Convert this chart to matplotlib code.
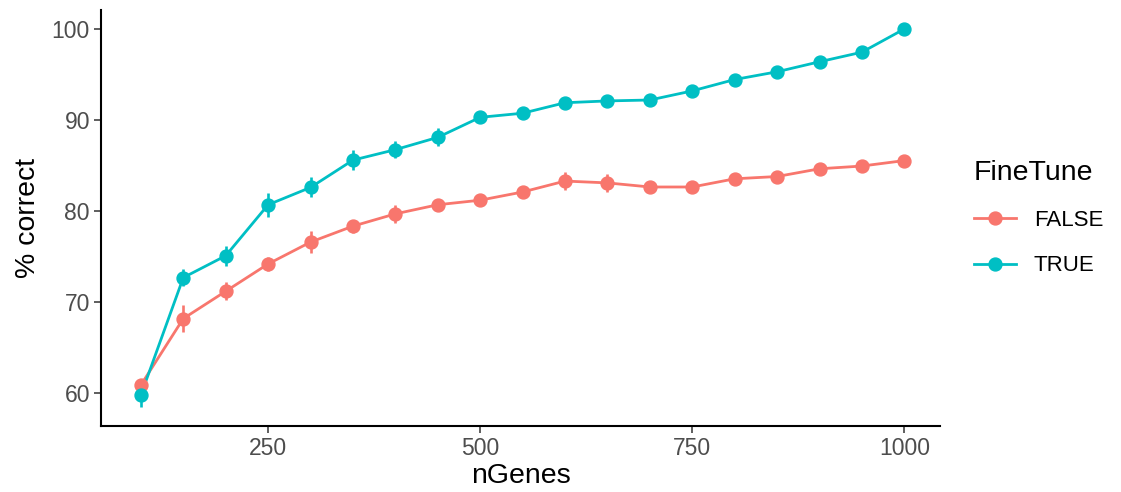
import matplotlib
matplotlib.use("Agg")
import matplotlib.pyplot as plt
from matplotlib.lines import Line2D

plt.rcParams['font.family'] = ['Liberation Sans', 'DejaVu Sans']

n_genes = [100, 150, 200, 250, 300, 350, 400, 450, 500, 550, 600, 650, 700, 750, 800, 850, 900, 950, 1000]
false_vals = [60.9, 68.2, 71.2, 74.2, 76.6, 78.35, 79.7, 80.7, 81.2, 82.1, 83.3, 83.1, 82.65, 82.65, 83.55, 83.8, 84.65, 84.95, 85.55]
false_err = [0.3, 1.5, 1.0, 0.8, 1.2, 0.7, 1.0, 0.6, 0.6, 0.5, 1.0, 1.0, 0.3, 0.3, 0.3, 0.3, 0.3, 0.3, 0.3]
true_vals = [59.8, 72.7, 75.1, 80.7, 82.6, 85.6, 86.75, 88.1, 90.3, 90.75, 91.9, 92.1, 92.2, 93.2, 94.45, 95.3, 96.4, 97.45, 100.0]
true_err = [1.3, 0.9, 1.1, 1.3, 1.1, 1.1, 0.9, 1.0, 0.6, 0.5, 0.4, 0.5, 0.3, 0.3, 0.3, 0.3, 0.3, 0.3, 0.3]

series = [("FALSE", false_vals, false_err, "#F8766D"),
          ("TRUE", true_vals, true_err, "#00BFC4")]

fig = plt.figure(figsize=(11.21, 4.92), dpi=100)
ax = fig.add_axes([0.0901, 0.134, 0.7484, 0.846])

handles = []
for name, vals, err, col in series:
    ax.plot(n_genes, vals, color=col, lw=2.0, zorder=2)
    ax.errorbar(n_genes, vals, yerr=err, fmt='o', color=col, ms=9.3,
                elinewidth=1.9, capsize=0, zorder=3)
    handles.append(Line2D([], [], color=col, lw=2.0, marker='o', ms=9.3))

ax.set_xlim(53, 1042)
ax.set_ylim(56.4, 102.1)
ax.set_xticks([250, 500, 750, 1000])
ax.set_yticks([60, 70, 80, 90, 100])
ax.set_xlabel("nGenes", fontsize=20.5, labelpad=2)
ax.set_ylabel("% correct", fontsize=20.5, labelpad=8)
ax.tick_params(axis='both', labelsize=16.5, labelcolor='#4D4D4D', color='#333333',
               length=5, width=1.1, pad=3)
for s in ['top', 'right']:
    ax.spines[s].set_visible(False)
for s in ['left', 'bottom']:
    ax.spines[s].set_linewidth(1.5)
    ax.spines[s].set_color('black')

leg = fig.legend(handles, ["FALSE", "TRUE"], title="FineTune", loc='center left',
                 bbox_to_anchor=(0.851, 0.557), frameon=False, fontsize=16,
                 title_fontsize=20.5, handlelength=1.9, labelspacing=1.1,
                 handletextpad=0.8)
leg._legend_box.align = "left"

fig.savefig("out.png", dpi=100)
